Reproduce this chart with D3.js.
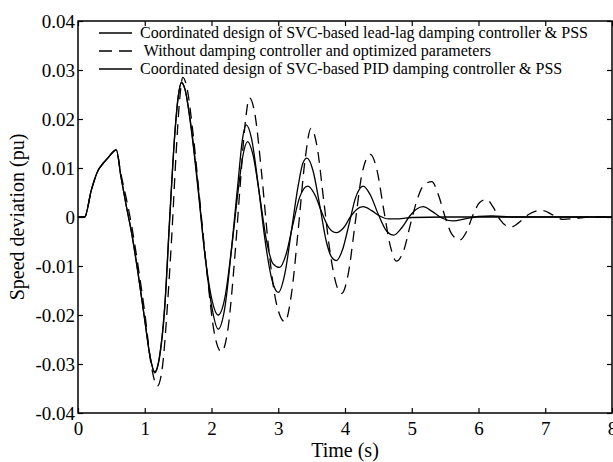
<!DOCTYPE html>
<html>
<head>
<meta charset="utf-8">
<script src="https://d3js.org/d3.v7.min.js"></script>
<style>
  body { margin: 0; background: #fff; }
  svg { display: block; }
  text { font-family: "Liberation Serif", "Times New Roman", serif; fill: #000; }
</style>
</head>
<body>
<div id="chart"></div>
<script>
// time (s), speed deviation (pu)
const leadLag = [
  [0,0],[0.1,0],[0.2,0.0055],[0.3,0.0095],[0.35,0.0105],[0.45,0.0121],[0.575,0.0137],[0.64,0.0085],
  [0.72,0.0025],[0.8,-0.003],[0.9,-0.0115],[1.0,-0.021],[1.08,-0.0285],[1.15,-0.0318],[1.22,-0.0288],
  [1.3,-0.0185],[1.37,-0.0015],[1.45,0.0168],[1.5,0.0243],[1.55,0.0274],[1.6,0.0262],[1.7,0.018],
  [1.8,0.006],[1.9,-0.0075],[2.0,-0.018],[2.1,-0.0229],[2.2,-0.0185],[2.3,-0.0065],[2.4,0.0075],
  [2.46,0.0155],[2.52,0.0188],[2.6,0.016],[2.7,0.0065],[2.8,-0.0045],[2.9,-0.0125],[3.0,-0.0154],
  [3.1,-0.0115],[3.2,-0.0025],[3.3,0.0065],[3.37,0.011],[3.43,0.012],[3.52,0.0095],[3.62,0.0025],
  [3.72,-0.005],[3.8,-0.0082],[3.87,-0.0089],[3.96,-0.0068],[4.06,-0.0015],[4.16,0.004],[4.27,0.0063],
  [4.38,0.0045],[4.5,0.0005],[4.62,-0.0028],[4.73,-0.0037],[4.85,-0.0022],[4.97,0.0002],[5.07,0.0016],
  [5.17,0.0021],[5.3,0.0012],[5.45,-0.0002],[5.62,-0.0008],[5.8,-0.0004],[6.0,0.0001],[6.2,0.0002],
  [6.5,0],[8,0]
];

const noControl = [
  [0,0],[0.1,0],[0.2,0.0055],[0.3,0.0095],[0.35,0.0105],[0.45,0.0121],[0.575,0.0137],[0.64,0.009],
  [0.72,0.004],[0.8,-0.0015],[0.9,-0.01],[1.0,-0.0195],[1.1,-0.0305],[1.19,-0.0345],[1.27,-0.03],
  [1.34,-0.018],[1.4,-0.005],[1.47,0.013],[1.52,0.0235],[1.57,0.0285],[1.63,0.0265],[1.72,0.0175],
  [1.82,0.004],[1.93,-0.011],[2.04,-0.0235],[2.15,-0.0275],[2.25,-0.0225],[2.35,-0.008],[2.43,0.0065],
  [2.5,0.0185],[2.57,0.0243],[2.65,0.021],[2.75,0.009],[2.85,-0.0055],[2.97,-0.0175],[3.1,-0.0214],
  [3.2,-0.0155],[3.3,-0.0025],[3.4,0.0115],[3.49,0.0181],[3.58,0.0145],[3.68,0.0035],[3.78,-0.0075],
  [3.87,-0.0138],[3.95,-0.0156],[4.05,-0.0115],[4.15,-0.0015],[4.25,0.0085],[4.38,0.0128],[4.48,0.0095],
  [4.58,0.0015],[4.68,-0.006],[4.77,-0.009],[4.88,-0.0068],[4.98,-0.0015],[5.08,0.0035],[5.18,0.0065],
  [5.3,0.0072],[5.4,0.0045],[5.5,0],[5.6,-0.0035],[5.72,-0.0047],[5.82,-0.003],[5.92,0.0005],
  [6.02,0.003],[6.12,0.0036],[6.22,0.002],[6.32,-0.0005],[6.42,-0.0018],[6.5,-0.002],[6.6,-0.0012],
  [6.75,0.0005],[6.9,0.0013],[6.97,0.0013],[7.1,0.0005],[7.27,-0.0005],[7.45,-0.0003],[7.7,0],[8,0]
];

const pid = [
  [0,0],[0.1,0],[0.2,0.0055],[0.3,0.0095],[0.35,0.0105],[0.45,0.0121],[0.575,0.0137],[0.64,0.0085],
  [0.72,0.0025],[0.8,-0.003],[0.9,-0.0115],[1.0,-0.021],[1.08,-0.0285],[1.15,-0.0316],[1.22,-0.0285],
  [1.3,-0.018],[1.37,-0.001],[1.45,0.017],[1.5,0.0245],[1.55,0.0275],[1.6,0.0262],[1.7,0.0175],
  [1.8,0.0055],[1.9,-0.0075],[2.0,-0.0165],[2.1,-0.02],[2.2,-0.0165],[2.3,-0.0065],[2.4,0.0055],
  [2.47,0.0125],[2.54,0.0154],[2.62,0.0128],[2.72,0.0045],[2.82,-0.0045],[2.92,-0.0095],[3.02,-0.0103],
  [3.12,-0.0075],[3.22,-0.0015],[3.32,0.004],[3.44,0.0063],[3.55,0.0045],[3.65,0.001],[3.76,-0.0022],
  [3.87,-0.0032],[3.98,-0.0022],[4.08,0],[4.17,0.0015],[4.27,0.0021],[4.4,0.0013],[4.52,0.0002],
  [4.65,-0.0004],[4.8,-0.0004],[5.0,-0.0001],[5.5,0],[8,0]
];

const xTicks = [0,1,2,3,4,5,6,7,8];
const yTicks = [-0.04,-0.03,-0.02,-0.01,0,0.01,0.02,0.03,0.04];
const yTickLabels = ["-0.04","-0.03","-0.02","-0.01","0","0.01","0.02","0.03","0.04"];

const series = [
  {name: "Coordinated design of SVC-based lead-lag damping controller & PSS", data: leadLag, dash: null},
  {name: " Without damping controller and optimized parameters", data: noControl, dash: "11,7"},
  {name: "Coordinated design of SVC-based PID damping controller & PSS", data: pid, dash: null}
];

const W = 613, H = 462;
const margin = {top: 21, right: 1, bottom: 49, left: 78};
const width = W - margin.left - margin.right,
      height = H - margin.top - margin.bottom;

const svg = d3.select("#chart").append("svg")
    .attr("width", W)
    .attr("height", H);

const g = svg.append("g")
    .attr("transform", "translate(" + margin.left + "," + margin.top + ")");

const x = d3.scaleLinear().domain([0, 8]).range([0, width]);
const y = d3.scaleLinear().domain([-0.04, 0.04]).range([height, 0]);

// inward ticks on all four sides
g.append("g")
    .attr("transform", "translate(0," + height + ")")
    .call(d3.axisBottom(x).tickValues(xTicks).tickSizeInner(-5).tickSizeOuter(0).tickPadding(9).tickFormat(d3.format("d")))
    .call(a => a.select(".domain").remove())
    .call(a => a.selectAll("text").style("font-size", "19px"));

g.append("g")
    .call(d3.axisTop(x).tickValues(xTicks).tickSizeInner(-5).tickSizeOuter(0).tickFormat(""))
    .call(a => a.select(".domain").remove());

g.append("g")
    .call(d3.axisLeft(y).tickValues(yTicks).tickSizeInner(-5).tickSizeOuter(0).tickPadding(3)
      .tickFormat((d, i) => yTickLabels[i]))
    .call(a => a.select(".domain").remove())
    .call(a => a.selectAll("text").style("font-size", "19px"));

g.append("g")
    .attr("transform", "translate(" + width + ",0)")
    .call(d3.axisRight(y).tickValues(yTicks).tickSizeInner(-5).tickSizeOuter(0).tickFormat(""))
    .call(a => a.select(".domain").remove());

g.selectAll(".tick line").attr("stroke", "#000").attr("stroke-width", 1.2);

const line = d3.line()
    .x(d => x(d[0]))
    .y(d => y(d[1]))
    .curve(d3.curveMonotoneX);

g.selectAll(".curve")
    .data(series)
    .enter()
    .append("path")
    .attr("class", "curve")
    .attr("d", d => line(d.data))
    .attr("fill", "none")
    .attr("stroke", "#000")
    .attr("stroke-width", 1.3)
    .attr("stroke-dasharray", d => d.dash);

// frame
g.append("rect")
    .attr("width", width)
    .attr("height", height)
    .attr("fill", "none")
    .attr("stroke", "#000")
    .attr("stroke-width", 1.5);

// legend
const legend = g.append("g").attr("transform", "translate(21,12)");
const rows = legend.selectAll("g")
    .data(series)
    .enter()
    .append("g")
    .attr("transform", (d, i) => "translate(0," + i * 18 + ")");

rows.append("line")
    .attr("x1", 0).attr("x2", 33)
    .attr("y1", 0).attr("y2", 0)
    .attr("stroke", "#000")
    .attr("stroke-width", 1.3)
    .attr("stroke-dasharray", d => d.dash ? "13,7" : null);

rows.append("text")
    .attr("x", 41)
    .attr("y", 5)
    .style("font-size", "16px")
    .style("white-space", "pre")
    .text(d => d.name);

// axis titles
g.append("text")
    .attr("x", width / 2)
    .attr("y", height + 44)
    .attr("text-anchor", "middle")
    .style("font-size", "20px")
    .text("Time (s)");

g.append("text")
    .attr("transform", "translate(" + (-54) + "," + (height / 2) + ") rotate(-90)")
    .attr("text-anchor", "middle")
    .style("font-size", "20px")
    .text("Speed deviation (pu)");
</script>
</body>
</html>
